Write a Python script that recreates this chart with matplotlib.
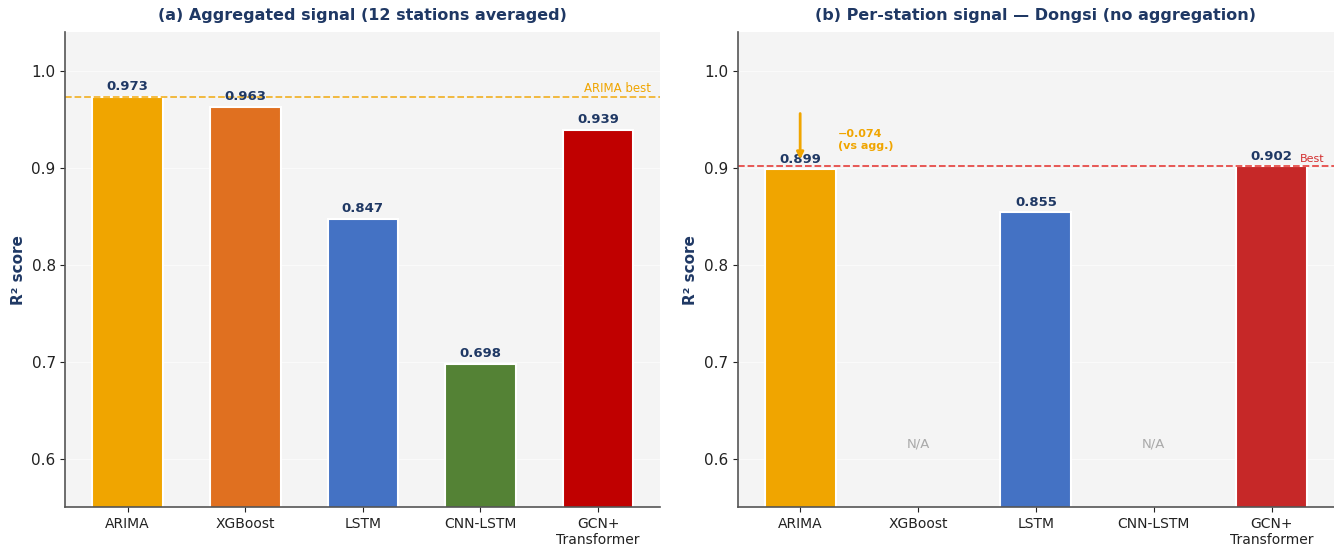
import numpy as np
import matplotlib.pyplot as plt

models = ["ARIMA", "XGBoost", "LSTM", "CNN-LSTM", "GCN+\nTransformer"]
r2_agg = [0.973, 0.963, 0.847, 0.698, 0.939]
r2_dongsi = [0.899, np.nan, 0.855, np.nan, 0.902]
colors_agg = ["#F0A500", "#E07020", "#4472C4", "#548235", "#C00000"]
colors_dongsi = ["#F0A500", "#E07020", "#4472C4", "#548235", "#C62828"]
arima_drop = -0.074

navy = "#1F3864"
plt.rcParams['font.family'] = ['DejaVu Sans']

fig = plt.figure(figsize=(13.34, 5.46), dpi=100)
ax1 = fig.add_axes([0.049, 0.071, 0.446, 0.870])
ax2 = fig.add_axes([0.553, 0.071, 0.447, 0.870])

x = np.arange(len(models))


def style(ax, title):
    ax.set_facecolor("#F4F4F4")
    ax.set_ylim(0.55, 1.04)
    ax.set_yticks([0.6, 0.7, 0.8, 0.9, 1.0])
    ax.set_xticks(x)
    ax.set_xticklabels(models, fontsize=10)
    ax.tick_params(axis="y", labelsize=11)
    ax.tick_params(colors="#222222")
    ax.grid(axis="y", color="white", linewidth=0.8, alpha=0.6)
    ax.set_axisbelow(True)
    for s in ["top", "right"]:
        ax.spines[s].set_visible(False)
    for s in ["left", "bottom"]:
        ax.spines[s].set_color("#555555")
        ax.spines[s].set_linewidth(1.2)
    ax.set_ylabel("R² score", fontsize=11, fontweight="bold", color=navy)
    ax.set_title(title, fontsize=11.5, fontweight="bold", color=navy, pad=9)


# (a) aggregated signal
ax1.bar(x, r2_agg, width=0.6, color=colors_agg, edgecolor="white", linewidth=1.5)
for xi, v in zip(x, r2_agg):
    ax1.text(xi, v + 0.004, f"{v:.3f}", ha="center", va="bottom",
             fontsize=9.5, fontweight="bold", color=navy)
ax1.axhline(r2_agg[0], color="#F0A500", linestyle="--", linewidth=1.3, alpha=0.8, zorder=1)
ax1.text(4.45, r2_agg[0] + 0.002, "ARIMA best", ha="right", va="bottom",
         fontsize=8.5, color="#F0A500")
style(ax1, "(a) Aggregated signal (12 stations averaged)")

# (b) per-station signal, Dongsi
ax2.bar(x, r2_dongsi, width=0.6, color=colors_dongsi, edgecolor="white", linewidth=1.5)
for xi, v in zip(x, r2_dongsi):
    if np.isnan(v):
        ax2.text(xi, 0.615, "N/A", ha="center", va="center", fontsize=9.5, color="#AAAAAA")
    else:
        ax2.text(xi, v + 0.003, f"{v:.3f}", ha="center", va="bottom",
                 fontsize=9.5, fontweight="bold", color=navy)
best = np.nanmax(r2_dongsi)
ax2.axhline(best, color="#E53935", linestyle="--", linewidth=1.3, alpha=0.9, zorder=1)
ax2.text(4.45, best + 0.002, "Best", ha="right", va="bottom", fontsize=8, color="#D32F2F")
ax2.annotate("", xy=(0, r2_dongsi[0] + 0.007), xytext=(0, r2_dongsi[0] + 0.06),
             arrowprops=dict(arrowstyle="-|>", color="#F0A500", lw=2, mutation_scale=10))
ax2.text(0.32, 0.929, f"\u2212{abs(arima_drop):.3f}\n(vs agg.)", ha="left", va="center",
         fontsize=8, fontweight="bold", color="#F0A500")
style(ax2, "(b) Per-station signal \u2014 Dongsi (no aggregation)")
ax2.set_xlim(-0.53, 4.53)

fig.savefig("out.png", dpi=100)
